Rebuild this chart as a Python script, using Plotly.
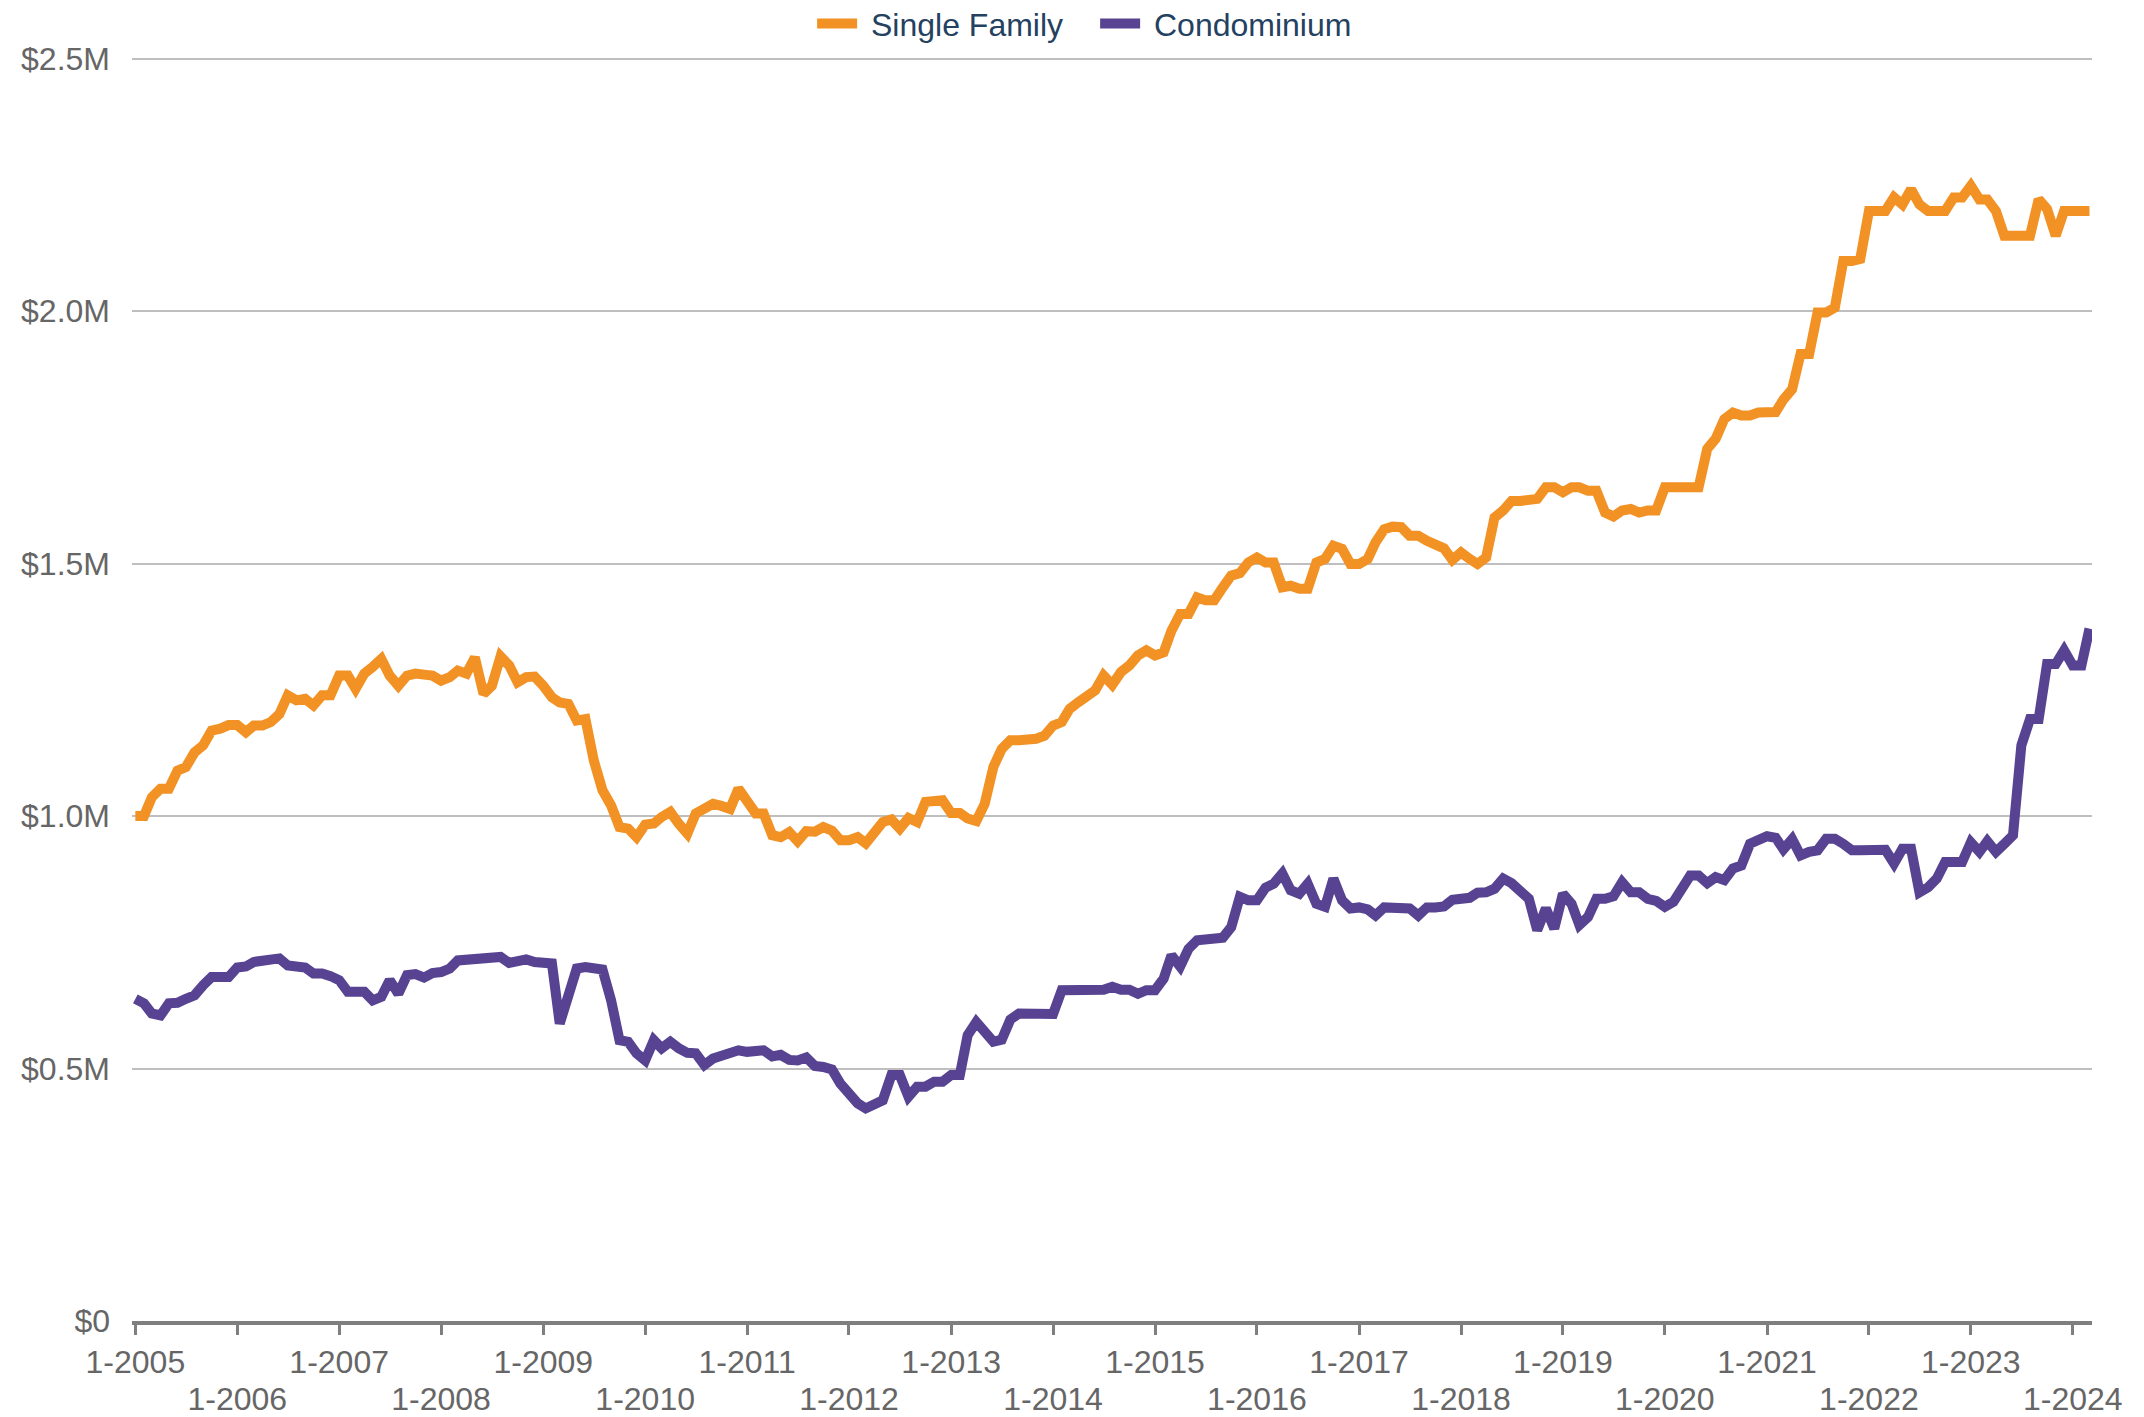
import plotly.graph_objects as go
import pandas as pd

start_month = "2005-01-01"

single_family = [
    1.000, 1.000, 1.037, 1.054, 1.054, 1.090, 1.097, 1.126, 1.140, 1.169, 1.173, 1.180,
    1.180, 1.166, 1.179, 1.179, 1.186, 1.202, 1.239, 1.229, 1.232, 1.219, 1.239, 1.239,
    1.278, 1.278, 1.252, 1.282, 1.295, 1.311, 1.278, 1.258, 1.278, 1.282, 1.280, 1.278,
    1.268, 1.275, 1.288, 1.282, 1.314, 1.242, 1.258, 1.316, 1.298, 1.265, 1.275, 1.276,
    1.258, 1.235, 1.225, 1.222, 1.189, 1.192, 1.110, 1.051, 1.021, 0.978, 0.975, 0.958,
    0.983, 0.985, 0.998, 1.008, 0.985, 0.965, 1.005, 1.016, 1.024, 1.020, 1.014, 1.054,
    1.028, 1.005, 1.005, 0.962, 0.958, 0.968, 0.950, 0.970, 0.969, 0.978, 0.971, 0.952,
    0.952, 0.958, 0.946, 0.969, 0.988, 0.993, 0.975, 0.996, 0.988, 1.028, 1.031, 1.031,
    1.006, 1.006, 0.995, 0.990, 1.024, 1.097, 1.133, 1.150, 1.150, 1.150, 1.153, 1.159,
    1.179, 1.186, 1.212, 1.225, 1.239, 1.249, 1.278, 1.260, 1.285, 1.298, 1.318, 1.328,
    1.318, 1.324, 1.367, 1.400, 1.400, 1.433, 1.427, 1.427, 1.453, 1.476, 1.481, 1.502,
    1.512, 1.502, 1.502, 1.453, 1.456, 1.450, 1.450, 1.502, 1.509, 1.535, 1.529, 1.499,
    1.499, 1.509, 1.542, 1.568, 1.573, 1.572, 1.555, 1.555, 1.545, 1.539, 1.530, 1.507,
    1.522, 1.509, 1.499, 1.512, 1.591, 1.605, 1.624, 1.624, 1.624, 1.628, 1.651, 1.651,
    1.641, 1.651, 1.651, 1.644, 1.644, 1.601, 1.593, 1.605, 1.608, 1.601, 1.605, 1.605,
    1.651, 1.651, 1.651, 1.651, 1.651, 1.727, 1.747, 1.786, 1.799, 1.793, 1.793, 1.799,
    1.799, 1.800, 1.825, 1.845, 1.915, 1.915, 1.997, 1.997, 2.007, 2.099, 2.099, 2.103,
    2.198, 2.198, 2.198, 2.225, 2.211, 2.241, 2.211, 2.198, 2.198, 2.198, 2.225, 2.225,
    2.248, 2.221, 2.221, 2.198, 2.149, 2.149, 2.149, 2.149, 2.221, 2.202, 2.149, 2.198,
    2.198, 2.198, 2.198,
]

condominium = [
    0.638, 0.629, 0.609, 0.605, 0.629, 0.630, 0.638, 0.645, 0.665, 0.681, 0.681, 0.681,
    0.700, 0.702, 0.711, 0.713, 0.713, 0.718, 0.704, 0.704, 0.700, 0.688, 0.688, 0.683,
    0.675, 0.652, 0.652, 0.652, 0.635, 0.642, 0.675, 0.648, 0.685, 0.687, 0.680, 0.689,
    0.691, 0.698, 0.714, 0.716, 0.718, 0.721, 0.722, 0.721, 0.709, 0.713, 0.716, 0.711,
    0.711, 0.708, 0.589, 0.642, 0.698, 0.701, 0.696, 0.696, 0.635, 0.556, 0.553, 0.530,
    0.516, 0.556, 0.540, 0.553, 0.540, 0.531, 0.530, 0.507, 0.520, 0.526, 0.530, 0.536,
    0.533, 0.533, 0.536, 0.524, 0.527, 0.517, 0.516, 0.522, 0.505, 0.503, 0.498, 0.470,
    0.447, 0.431, 0.421, 0.429, 0.437, 0.487, 0.487, 0.444, 0.464, 0.464, 0.474, 0.474,
    0.487, 0.487, 0.566, 0.592, 0.572, 0.553, 0.557, 0.597, 0.609, 0.609, 0.609, 0.609,
    0.608, 0.655, 0.655, 0.655, 0.655, 0.655, 0.656, 0.662, 0.656, 0.656, 0.648, 0.655,
    0.655, 0.678, 0.724, 0.702, 0.737, 0.754, 0.755, 0.759, 0.759, 0.780, 0.840, 0.833,
    0.833, 0.858, 0.866, 0.886, 0.853, 0.846, 0.866, 0.826, 0.820, 0.876, 0.833, 0.817,
    0.819, 0.815, 0.803, 0.819, 0.819, 0.820, 0.817, 0.803, 0.819, 0.819, 0.821, 0.834,
    0.834, 0.838, 0.848, 0.849, 0.856, 0.876, 0.867, 0.849, 0.836, 0.774, 0.817, 0.777,
    0.846, 0.826, 0.784, 0.800, 0.836, 0.836, 0.841, 0.869, 0.849, 0.849, 0.836, 0.832,
    0.820, 0.830, 0.853, 0.882, 0.882, 0.867, 0.879, 0.873, 0.896, 0.902, 0.945, 0.955,
    0.960, 0.957, 0.934, 0.954, 0.922, 0.929, 0.932, 0.955, 0.955, 0.945, 0.932, 0.932,
    0.932, 0.933, 0.933, 0.906, 0.935, 0.935, 0.849, 0.859, 0.876, 0.909, 0.909, 0.909,
    0.948, 0.929, 0.950, 0.929, 0.945, 0.962, 1.140, 1.192, 1.192, 1.301, 1.301, 1.328,
    1.298, 1.298, 1.371,
]

tick_years = list(range(2005, 2025))
y_tick_values = [0, 0.5e6, 1.0e6, 1.5e6, 2.0e6, 2.5e6]
y_tick_labels = ["$0", "$0.5M", "$1.0M", "$1.5M", "$2.0M", "$2.5M"]

dates = pd.date_range(start_month, periods=len(single_family), freq="MS")

ORANGE = "#F29124"
PURPLE = "#574391"
FONT = "Liberation Sans, Arial, sans-serif"
TICK_FONT = dict(size=32, color="#666666")
X_RANGE = [pd.Timestamp("2004-12-20"), pd.Timestamp("2024-03-10")]

fig = go.Figure()
fig.add_trace(go.Scatter(
    x=dates, y=[v * 1e6 for v in single_family], name=" Single Family",
    mode="lines", line=dict(color=ORANGE, width=10),
))
fig.add_trace(go.Scatter(
    x=dates, y=[v * 1e6 for v in condominium], name=" Condominium",
    mode="lines", line=dict(color=PURPLE, width=10),
))
# empty helper trace so the second (staggered) label row axis is drawn
fig.add_trace(go.Scatter(
    x=[dates[0]], y=[None], xaxis="x2", yaxis="y",
    mode="lines", showlegend=False, hoverinfo="skip",
))

tickvals = [pd.Timestamp(f"{y}-01-01") for y in tick_years]
row1_text = [f"1-{y}" if i % 2 == 0 else "" for i, y in enumerate(tick_years)]
row2_vals = [v for i, v in enumerate(tickvals) if i % 2 == 1]
row2_text = [f"1-{y}" for i, y in enumerate(tick_years) if i % 2 == 1]

# page body has an 8px margin: figure is offset by 8px, extends to the window bottom
fig.update_layout(
    width=2128, height=1409,
    margin=dict(l=124, r=44, t=49, b=96, autoexpand=False),
    paper_bgcolor="white", plot_bgcolor="white",
    font=dict(family=FONT, size=32, color="#666666"),
    showlegend=True,
    legend=dict(orientation="h", x=0.347, xanchor="left",
                yref="container", y=0.9888, yanchor="middle",
                font=dict(size=32, color="#24415F"), itemwidth=40,
                entrywidth=228, entrywidthmode="pixels",
                bgcolor="rgba(0,0,0,0)"),
    xaxis=dict(
        range=X_RANGE,
        tickmode="array", tickvals=tickvals, ticktext=row1_text,
        showgrid=False, zeroline=False, automargin=False,
        showline=True, linecolor="#7F7F7F", linewidth=4,
        ticks="outside", ticklen=10, tickwidth=3, tickcolor="#7F7F7F",
        tickfont=TICK_FONT, tickangle=0,
    ),
    xaxis2=dict(
        range=X_RANGE, overlaying="x", anchor="y", side="bottom",
        tickmode="array", tickvals=row2_vals, ticktext=row2_text,
        showgrid=False, zeroline=False, automargin=False, showline=False,
        ticks="outside", ticklen=10, tickwidth=0, tickcolor="rgba(0,0,0,0)",
        ticklabelstandoff=40,
        tickfont=TICK_FONT, tickangle=0,
    ),
    yaxis=dict(
        range=[0, 2.503e6],
        tickmode="array", tickvals=y_tick_values, ticktext=y_tick_labels,
        showgrid=True, gridcolor="#BFBFBF", gridwidth=2,
        zeroline=False, showline=False, ticks="", automargin=False,
        ticklabelstandoff=21,
        tickfont=TICK_FONT,
    ),
)

fig.write_html(
    "out.html",
    post_script="document.documentElement.style.overflow='hidden';document.body.style.overflow='hidden';",
)
